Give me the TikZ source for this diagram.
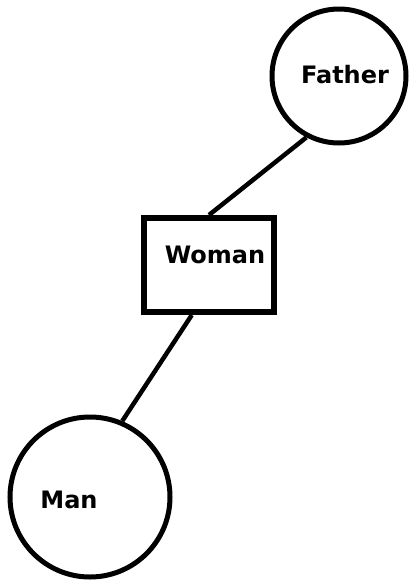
\documentclass[tikz,border=0pt]{standalone}
\usepackage{fontspec}
\setmainfont{DejaVu Sans}
\usetikzlibrary{calc}

\begin{document}
\begin{tikzpicture}[x=1pt,y=-1pt,
    person/.style={draw,circle,line width=5pt,inner sep=0pt},
    partner/.style={draw,rectangle,line width=6pt,inner sep=0pt,
      minimum width=130pt,minimum height=94pt},
    who/.style={font=\bfseries\fontsize{24}{26}\selectfont,inner sep=0pt},
    tie/.style={line width=4.5pt}]
    \useasboundingbox (0,0) rectangle (417,584);
    \node[person,minimum size=134pt] (father) at (339,76) {};
    \node[partner] (woman) at (209,265) {};
    \node[person,minimum size=160pt] (man) at (90,497) {};
    \node[who] (fathername) at (345,75) {Father};
    \node[who] (womanname) at (215,255) {Woman};
    \node[who] (manname) at (69,500) {Man};
    \draw[tie] (father.242) -- (woman.north);
    \draw[tie] (woman.251) -- (man.67);
  \end{tikzpicture}
\end{document}
